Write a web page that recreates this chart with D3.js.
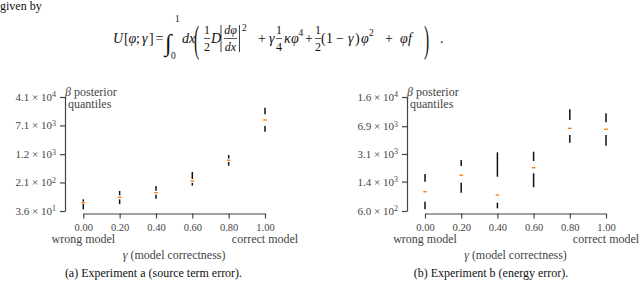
<!DOCTYPE html>
<html>
<head>
<meta charset="utf-8">
<script src="https://cdn.jsdelivr.net/npm/d3@7"></script>
<style>
body { margin: 0; background: #fff; }
svg, svg text { font-family: "Liberation Serif", "DejaVu Serif", serif; }
</style>
</head>
<body>
<svg id="fig" width="640" height="294"></svg>
<script>
const gammas = [0, 0.2, 0.4, 0.6, 0.8, 1.0];

// experiment a: posterior quantiles of beta (min, q25, median, q75, max)
const aMax = [74, 124, 169, 400, 1143, 21200];
const aQ75 = [64, 95, 125, 260, 920, 14100];
const aMed = [60, 84, 111, 230, 824, 9910];
const aQ25 = [56, 74, 98, 205, 740, 6850];
const aMin = [40, 55, 77, 172, 590, 4820];
const aTickMant = ["3.6", "2.1", "1.2", "7.1", "4.1"];
const aTickExp = [1, 2, 3, 3, 4];

// experiment b
const bMax = [1742, 2606, 3251, 3311, 11220, 10000];
const bQ75 = [1393, 2191, 1610, 2531, 8250, 7720];
const bMed = [1045, 1678, 951, 2087, 6490, 6310];
const bQ25 = [783, 1356, 762, 1777, 5350, 5350];
const bMin = [630, 1016, 648, 1187, 4290, 3936];
const bTickMant = ["6.0", "1.4", "3.1", "6.9", "1.6"];
const bTickExp = [2, 3, 3, 3, 4];

const serif = '"Liberation Serif", "DejaVu Serif", serif';
const svg = d3.select("#fig").attr("font-family", serif);
const ink = "#444";

function drawPanel(p) {
    const tickVals = p.mant.map((m, i) => +m * Math.pow(10, p.exp[i]));
    const x = d3.scaleLinear([0, 1], [p.x0, p.x1]);
    const y = d3.scaleLog([tickVals[0], tickVals[tickVals.length - 1]], [211, 97]);

    const gx = svg.append("g")
        .attr("transform", "translate(0,213.5)")
        .call(d3.axisBottom(x).tickValues(gammas).tickSize(5).tickSizeOuter(0)
            .tickPadding(5).tickFormat(d3.format(".2f")));
    gx.attr("font-family", serif).attr("font-size", 10.5);

    const gy = svg.append("g")
        .attr("transform", `translate(${p.spine},0)`)
        .call(d3.axisLeft(y).tickValues(tickVals).tickSize(5).tickSizeOuter(0)
            .tickPadding(4).tickFormat(""));
    gy.attr("font-family", serif).attr("font-size", 11);
    gy.selectAll(".tick text").each(function(d, i) {
        const t = d3.select(this);
        t.append("tspan").text(p.mant[i] + " × 10");
        t.append("tspan").attr("dy", "-0.45em").attr("font-size", 8).text(p.exp[i]);
    });

    [gx, gy].forEach(g => {
        g.selectAll("path, line").attr("stroke", ink).attr("stroke-width", 1.2);
        g.selectAll("text").attr("fill", ink);
    });

    // y label
    svg.append("text").attr("x", p.spine).attr("y", 96).attr("font-size", 12).attr("fill", ink)
        .html('<tspan font-style="italic">β</tspan> posterior');
    svg.append("text").attr("x", p.spine + 3).attr("y", 108).attr("font-size", 12).attr("fill", ink)
        .text("quantiles");

    // x labels
    svg.append("text").attr("x", x(0)).attr("y", 243).attr("text-anchor", "middle")
        .attr("font-size", 12).attr("fill", ink).text("wrong model");
    svg.append("text").attr("x", x(1)).attr("y", 243).attr("text-anchor", "middle")
        .attr("font-size", 12).attr("fill", ink).text("correct model");
    svg.append("text").attr("x", (x(0) + x(1)) / 2).attr("y", 258.5).attr("text-anchor", "middle")
        .attr("font-size", 12).attr("fill", ink)
        .html('<tspan font-style="italic">γ</tspan> (model correctness)');

    // caption
    svg.append("text").attr("x", p.capX).attr("y", 276.5).attr("text-anchor", "middle")
        .attr("font-size", 12).attr("fill", "#111").text(p.caption);

    const rows = gammas.map((g, i) => ({g, lo: p.lo[i], q25: p.q25[i], med: p.med[i], q75: p.q75[i], hi: p.hi[i]}));
    const marks = svg.append("g");
    marks.selectAll(".upper").data(rows).join("line")
        .attr("x1", d => x(d.g)).attr("x2", d => x(d.g))
        .attr("y1", d => y(d.hi)).attr("y2", d => y(d.q75))
        .attr("stroke", "#111").attr("stroke-width", 1.5);
    marks.selectAll(".lower").data(rows).join("line")
        .attr("x1", d => x(d.g)).attr("x2", d => x(d.g))
        .attr("y1", d => y(d.q25)).attr("y2", d => y(d.lo))
        .attr("stroke", "#111").attr("stroke-width", 1.5);
    marks.selectAll(".med").data(rows).join("line")
        .attr("x1", d => x(d.g) - 1.8).attr("x2", d => x(d.g) + 1.8)
        .attr("y1", d => y(d.med)).attr("y2", d => y(d.med))
        .attr("stroke", "#ff7f0e").attr("stroke-width", 1.4);
}

drawPanel({x0: 83.3, x1: 265, spine: 65, lo: aMin, q25: aQ25, med: aMed, q75: aQ75, hi: aMax,
    mant: aTickMant, exp: aTickExp, capX: 153.5, caption: "(a) Experiment a (source term error)."});
drawPanel({x0: 425, x1: 606, spine: 407, lo: bMin, q25: bQ25, med: bMed, q75: bQ75, hi: bMax,
    mant: bTickMant, exp: bTickExp, capX: 491, caption: "(b) Experiment b (energy error)."});

// text above the figure
const eq = svg.append("g").attr("fill", "#111");
function put(x, y, s, size, italic) {
    return eq.append("text").attr("x", x).attr("y", y).attr("font-size", size || 14)
        .attr("font-style", italic ? "italic" : null).text(s);
}
function frac(x, num, den, w) {
    put(x + w / 2, 34, num, 12, /[a-zφ]/.test(num)).attr("text-anchor", "middle");
    put(x + w / 2, 51, den, 12, /[a-zφ]/.test(den)).attr("text-anchor", "middle");
    eq.append("line").attr("x1", x).attr("x2", x + w).attr("y1", 38.5).attr("y2", 38.5)
        .attr("stroke", "#111").attr("stroke-width", 0.7);
}
function bar(x) {
    eq.append("line").attr("x1", x).attr("x2", x).attr("y1", 25).attr("y2", 52)
        .attr("stroke", "#111").attr("stroke-width", 0.8);
}
function bigParen(x, s) {
    eq.append("text").attr("font-size", 14)
        .attr("transform", `translate(${x},52) scale(1.1,2.7)`).text(s);
}
put(0, 10, "given by", 12);
put(113, 43, "U", 14, true);
put(124, 43, "[", 14);
put(128.5, 43, "φ", 14, true);
put(136, 43, ";", 14);
put(142, 43, "γ", 14, true);
put(149, 43, "]", 14);
put(155.5, 43, "=", 14);
put(165, 51, "∫", 24, true);
put(175, 22, "1", 9.5);
put(171, 59, "0", 9.5);
put(182, 43, "dx", 14, true);
bigParen(194, "(");
frac(204, "1", "2", 6);
put(211, 43, "D", 14, true);
bar(221);
frac(224, "dφ", "dx", 13);
bar(239.5);
put(242, 31, "2", 9.5);
put(258, 43, "+", 14);
put(269, 43, "γ", 14, true);
frac(276, "1", "4", 6);
put(284, 43, "κ", 14, true);
put(291, 43, "φ", 14, true);
put(298.5, 36, "4", 9.5);
put(305, 43, "+", 14);
frac(315, "1", "2", 6);
put(321, 43, "(", 14);
put(326, 43, "1", 14);
put(336, 43, "−", 14);
put(348, 43, "γ", 14, true);
put(355, 43, ")", 14);
put(361, 43, "φ", 14, true);
put(369, 36, "2", 9.5);
put(385, 43, "+", 14);
put(400, 43, "φ", 14, true);
put(408, 43, "f", 14, true);
bigParen(424, ")");
put(440, 43, ".", 14);
</script>
</body>
</html>
